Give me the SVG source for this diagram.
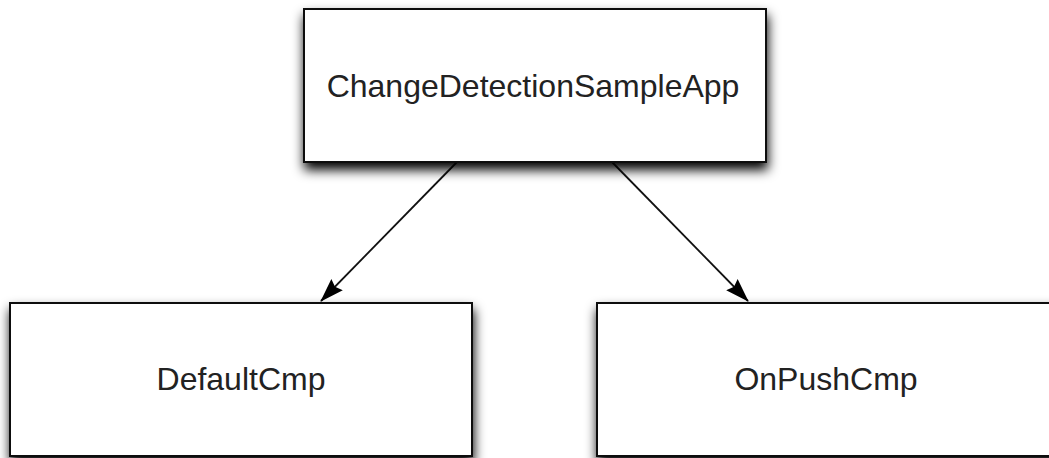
<svg xmlns="http://www.w3.org/2000/svg" width="1049" height="458" viewBox="0 0 1049 458">
<defs>
<filter id="sh" x="-10%" y="-20%" width="125%" height="180%">
<feGaussianBlur in="SourceAlpha" stdDeviation="6"/>
<feOffset dx="1" dy="7"/>
<feComponentTransfer><feFuncA type="linear" slope="1"/></feComponentTransfer>
<feMerge><feMergeNode/><feMergeNode in="SourceGraphic"/></feMerge>
</filter>
<marker id="ah" viewBox="0 0 24 18" refX="23" refY="9" markerWidth="24" markerHeight="18" markerUnits="userSpaceOnUse" orient="auto">
<path d="M0,1 L24,9 L0,17 L3,9 Z" fill="#000"/>
</marker>
<style>
.box{fill:#fff;stroke:#111;stroke-width:2;filter:url(#sh)}
.lbl{font-family:"Liberation Sans",Arial,sans-serif;font-size:32px;fill:#222;text-anchor:middle}
.edge{stroke:#111;stroke-width:1.8;fill:none;marker-end:url(#ah)}
</style>
</defs>
<rect width="1049" height="458" fill="#fff"/>
<g id="connectors">
<line class="edge" x1="457" y1="162" x2="321" y2="301"/>
<line class="edge" x1="612" y1="162" x2="748" y2="301"/>
</g>
<g id="app">
<rect class="box" x="304" y="9" width="462" height="153"/>
<text class="lbl" x="533" y="97">ChangeDetectionSampleApp</text>
</g>
<g id="default">
<rect class="box" x="10" y="303" width="462" height="153"/>
<text class="lbl" x="241" y="390">DefaultCmp</text>
</g>
<g id="onpush">
<rect class="box" x="597" y="303" width="462" height="153"/>
<text class="lbl" x="826" y="390">OnPushCmp</text>
</g>
</svg>
